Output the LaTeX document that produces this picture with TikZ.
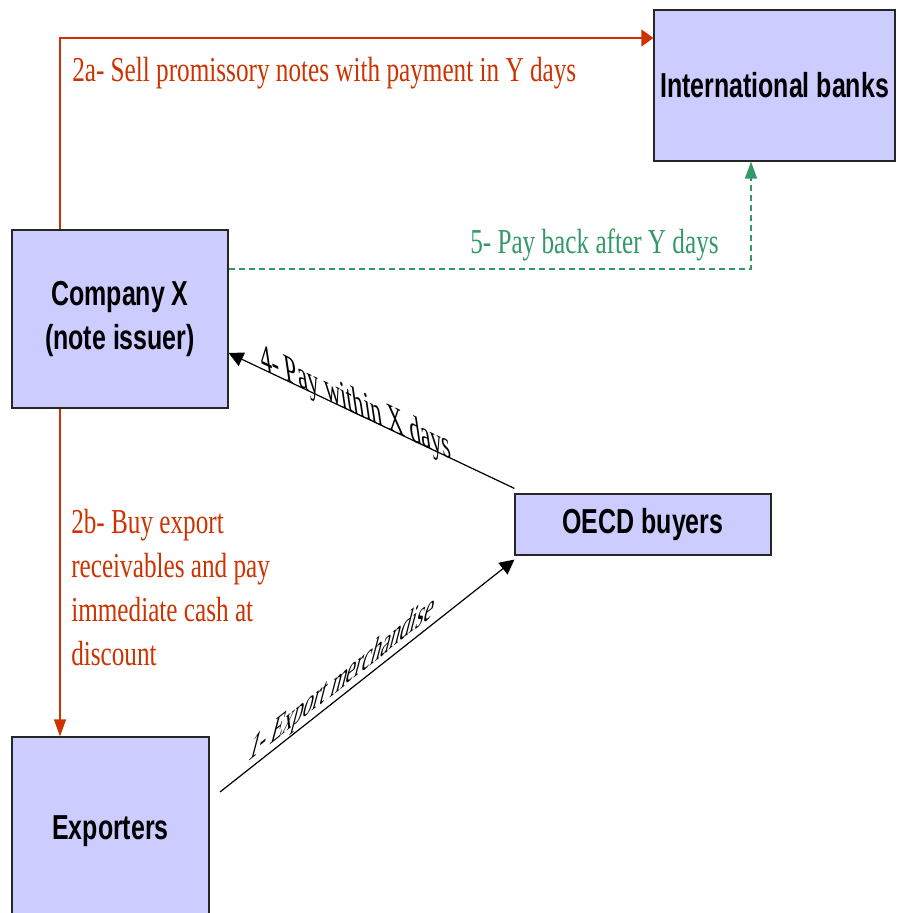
\documentclass[tikz,border=0pt]{standalone}
\usepackage{fontspec}
\setmainfont{Liberation Serif}
\newfontfamily\labelfont[FakeStretch=0.72]{Liberation Serif}
\newfontfamily\boxfont[FakeStretch=0.72]{Liberation Sans}
\newfontfamily\slopefont{Liberation Serif}
\usetikzlibrary{arrows.meta}

\definecolor{boxfill}{HTML}{CCCCFF}
\definecolor{notered}{HTML}{CC3300}
\definecolor{paygreen}{HTML}{339966}

\begin{document}
\begin{tikzpicture}[x=0.75pt,y=-0.75pt,
  party/.style={draw=black!85, fill=boxfill, line width=0.9pt, inner sep=0pt, align=center,
    font=\boxfont\bfseries\fontsize{26}{33}\selectfont},
  flow/.style={line width=0.9pt},
  lbl/.style={inner sep=0pt, font=\labelfont\fontsize{26.25}{33}\selectfont},
  slopelbl/.style={inner sep=0pt, anchor=base west, font=\slopefont\fontsize{26.25}{33}\selectfont},
  htip/.style={-{Triangle[length=9pt,width=12.75pt]}},
  vtip/.style={-{Triangle[length=12.75pt,width=9pt]}},
  dtip/.style={-{Triangle[length=11pt,width=11pt]}},
]
\useasboundingbox (0,0) rectangle (901,913);
\clip (0,0) rectangle (901,913);

% parties
\node[party, minimum width=180.75pt, minimum height=113.25pt] (banks) at (774.5,85.5) {International banks};
\node[party, minimum width=162pt, minimum height=133.5pt] (companyx) at (120,319) {Company X\\(note issuer)};
\node[party, minimum width=192pt, minimum height=45.75pt] (oecd) at (643,524.5) {OECD buyers};
\node[party, minimum width=147.75pt, minimum height=141pt] (exporters) at (110.5,831) {Exporters};

% routing helpers
\coordinate (colA) at (60,0);
\coordinate (colB) at (751,0);
\coordinate (rowA) at (0,38);
\coordinate (rowB) at (0,269);
\coordinate (rowC) at (0,353);
\coordinate (shipstart) at (220,792);

% 2a: notes sold to the banks
\draw[flow, notered, htip] (companyx.north -| colA) -- (colA |- rowA) -- (banks.west |- rowA);
\node[lbl, notered, anchor=base west] (sell) at (72,82) {2a- Sell promissory notes with payment in Y days};

% 2b: receivables bought from exporters
\draw[flow, notered, vtip] (companyx.south -| colA) -- (exporters.north -| colA);
\node[lbl, notered, anchor=base west] (buy1) at (71,533) {2b- Buy export};
\node[lbl, notered, anchor=base west] (buy2) at (71,577) {receivables and pay};
\node[lbl, notered, anchor=base west] (buy3) at (71,621) {immediate cash at};
\node[lbl, notered, anchor=base west] (buy4) at (71,665) {discount};

% 5: repayment to the banks
\draw[line width=1pt, draw=paygreen, dash pattern=on 5pt off 2.5pt, vtip] (companyx.east |- rowB) -| (banks.south -| colB);
\node[lbl, paygreen, anchor=base west] (payback) at (470,253) {5- Pay back after Y days};

% 4: buyers pay company X (label skewed along the line)
\draw[flow, dtip] ([yshift=3.75pt]oecd.north west) -- (companyx.east |- rowC);
\node[slopelbl, cm={0.644,-0.307,-0.17,1.15,(0,0)}] (paylbl) at (262,369) {4- Pay within X days};

% 1: merchandise shipped to buyers (label skewed along the line)
\draw[flow, dtip] (shipstart) -- ([yshift=-3pt]oecd.south west);
\node[slopelbl, cm={0.577,0.457,0.3,1.15,(0,0)}] (shiplbl) at (247,763) {1- Export merchandise};
\end{tikzpicture}
\end{document}
